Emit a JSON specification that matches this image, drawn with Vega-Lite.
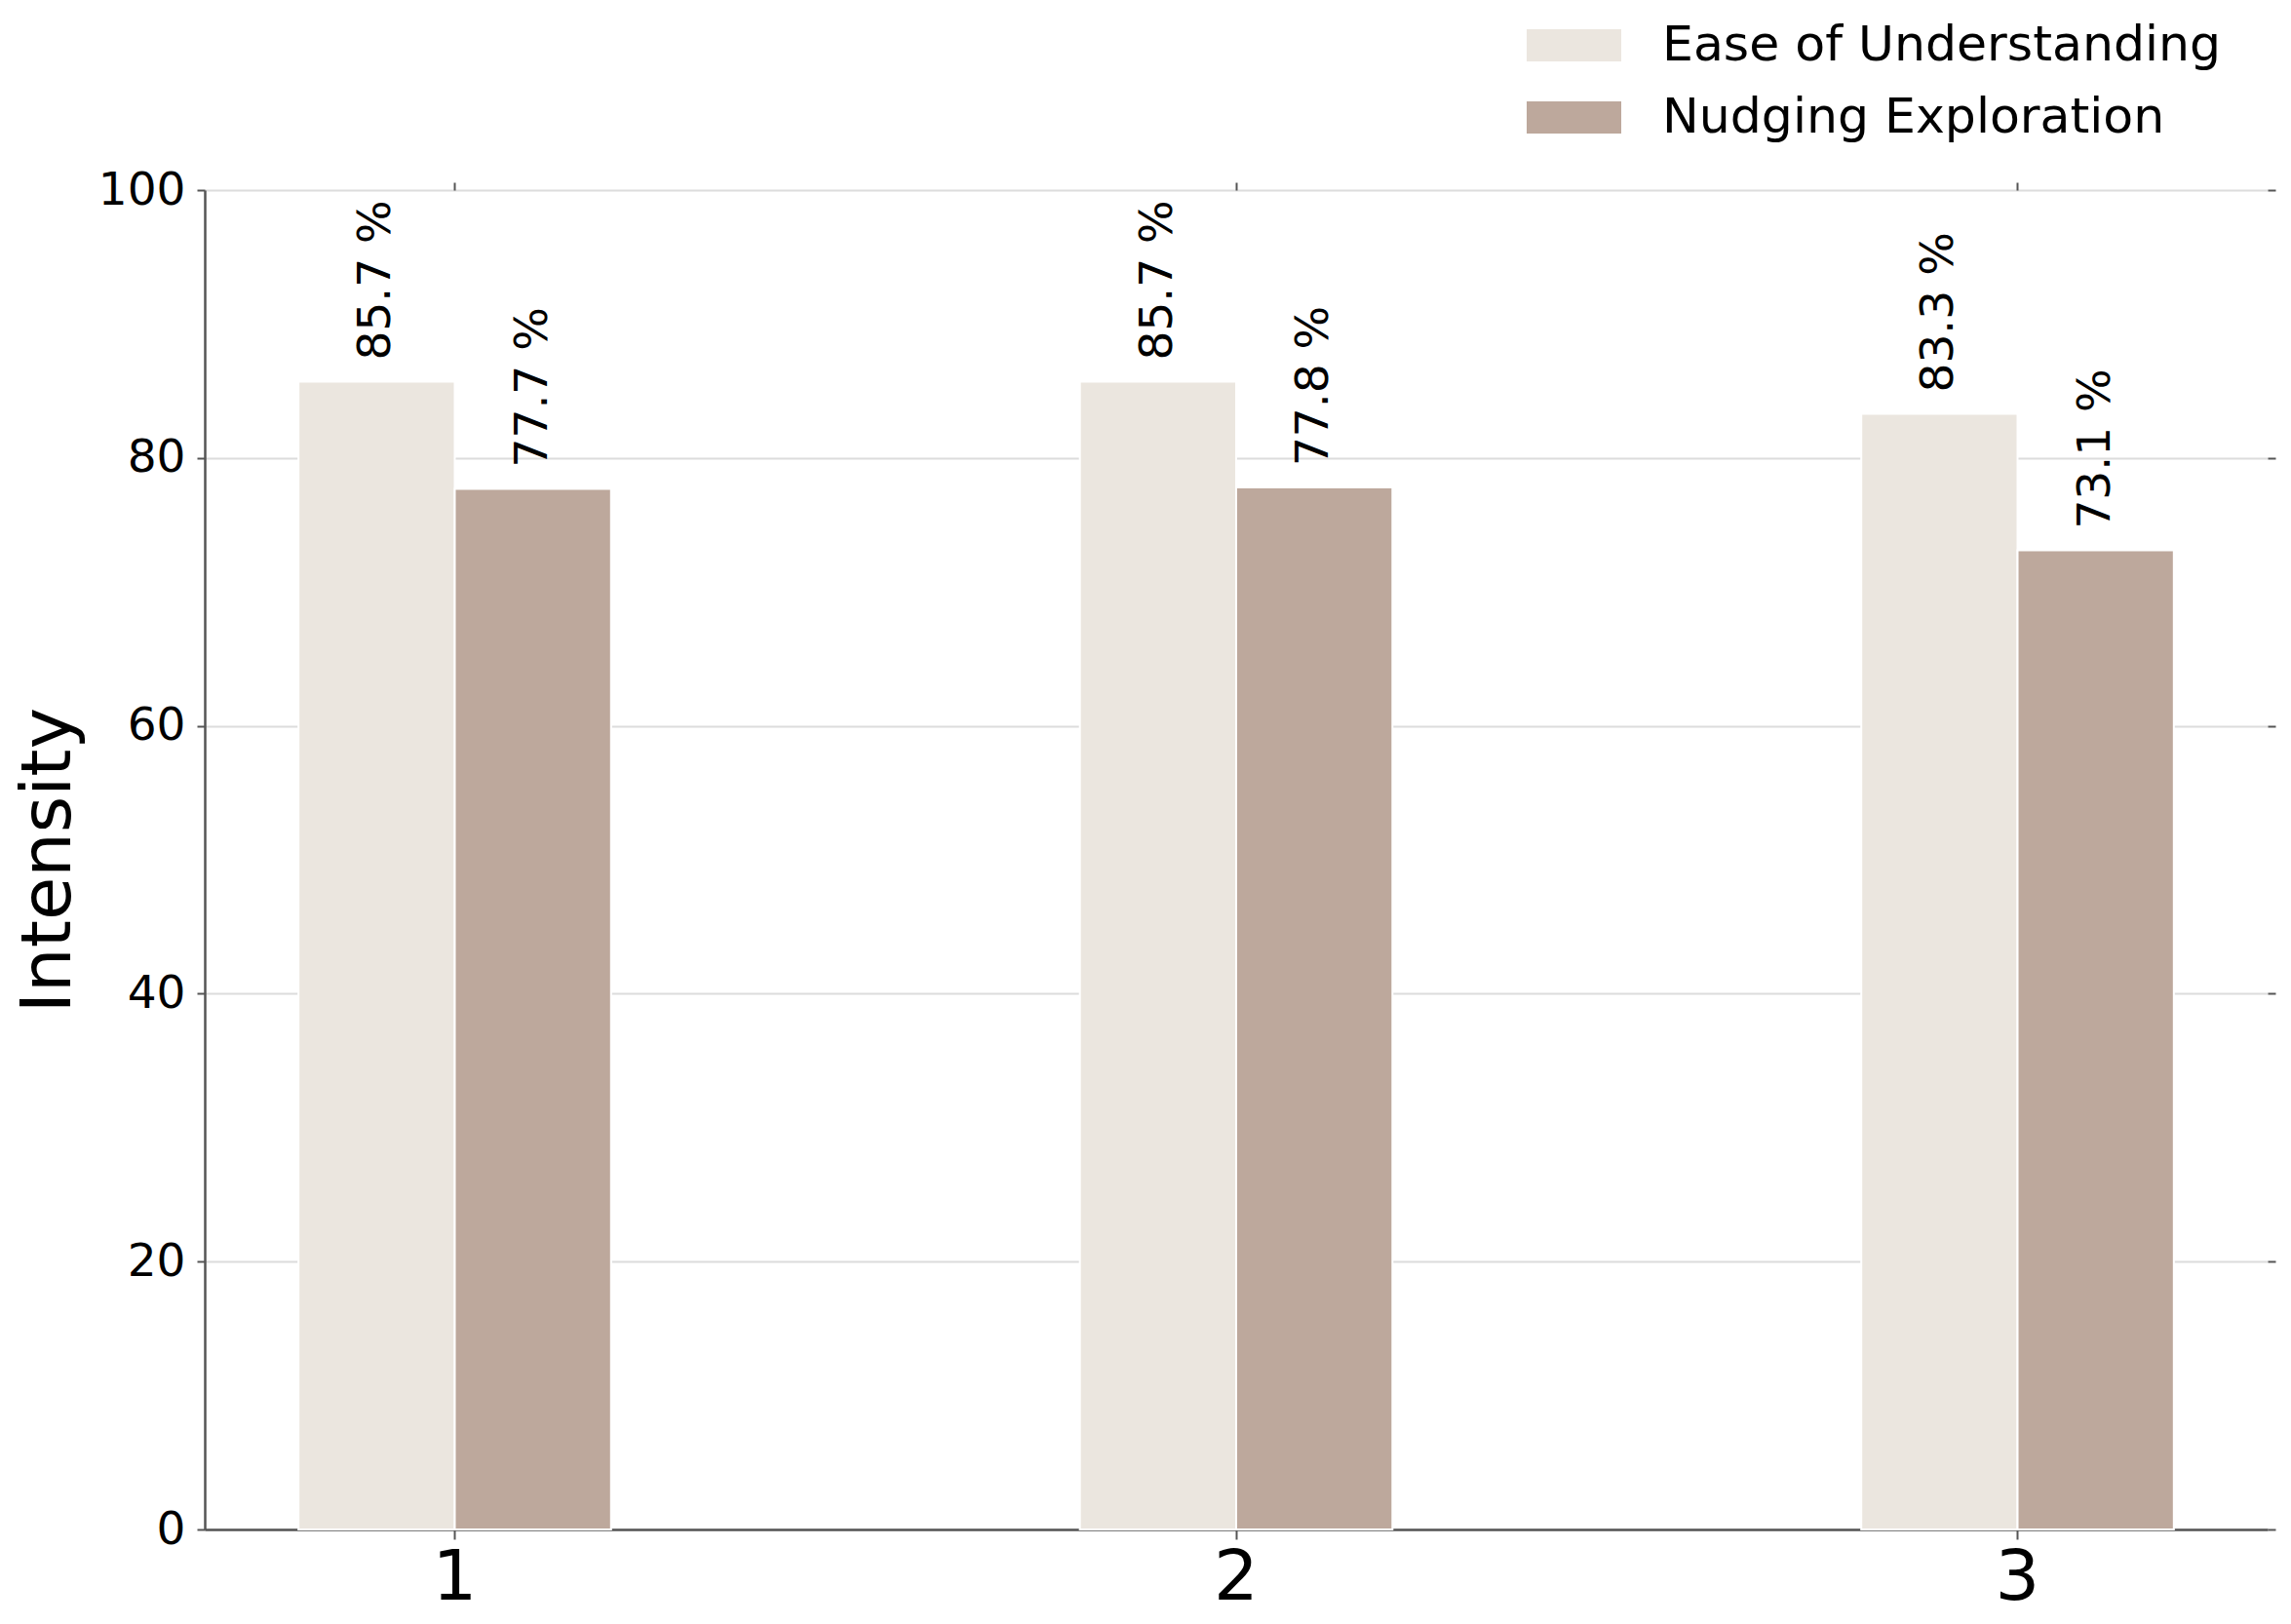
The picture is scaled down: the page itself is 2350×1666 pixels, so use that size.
{
  "$schema": "https://vega.github.io/schema/vega-lite/v6.json",
  "width": 2116,
  "height": 1374,
  "autosize": "none",
  "padding": {"left": 210, "top": 195, "right": 24, "bottom": 97},
  "background": "white",
  "config": {"font": "DejaVu Sans", "view": {"stroke": null}},
  "data": {
    "values": [
      {"task": "1", "metric": "Ease of Understanding", "value": 85.7},
      {"task": "1", "metric": "Nudging Exploration", "value": 77.7},
      {"task": "2", "metric": "Ease of Understanding", "value": 85.7},
      {"task": "2", "metric": "Nudging Exploration", "value": 77.8},
      {"task": "3", "metric": "Ease of Understanding", "value": 83.3},
      {"task": "3", "metric": "Nudging Exploration", "value": 73.1}
    ]
  },
  "transform": [{"calculate": "format(datum.value, '.1f') + ' %'", "as": "label"}],
  "layer": [
    {
      "mark": {"type": "bar", "stroke": "white", "strokeWidth": 2},
      "encoding": {
        "x": {
          "field": "task", "type": "ordinal",
          "scale": {"paddingInner": 0.6, "paddingOuter": 0.12},
          "axis": {
            "orient": "bottom", "title": null, "labelAngle": 0, "labelFontSize": 72,
            "labelColor": "black", "labelPadding": 4, "tickSize": 10, "tickWidth": 2,
            "tickColor": "#555555", "domainColor": "#555555", "domainWidth": 2.5, "grid": false
          }
        },
        "xOffset": {
          "field": "metric", "type": "nominal",
          "scale": {"domain": ["Ease of Understanding", "Nudging Exploration"], "paddingInner": 0, "paddingOuter": 0}
        },
        "y": {
          "field": "value", "type": "quantitative",
          "scale": {"domain": [0, 100], "nice": false},
          "axis": {
            "orient": "left", "values": [0, 20, 40, 60, 80, 100], "title": "Intensity",
            "titleFontSize": 72, "titleFontWeight": "normal", "titleColor": "black", "titlePadding": 14,
            "labelFontSize": 47, "labelColor": "black", "labelPadding": 12,
            "tickSize": 8, "tickWidth": 2, "tickColor": "#555555",
            "domainColor": "#555555", "domainWidth": 2.5,
            "grid": true, "gridColor": "#dcdcdc", "gridWidth": 2
          }
        },
        "color": {
          "field": "metric", "type": "nominal",
          "scale": {"domain": ["Ease of Understanding", "Nudging Exploration"], "range": ["#ebe6df", "#bda89c"]},
          "legend": {
            "orient": "none", "legendX": 1356, "legendY": -197, "title": null,
            "symbolType": "M-1,-0.34H1V0.34H-1Z", "symbolSize": 9409, "symbolStrokeWidth": 0,
            "labelFontSize": 50.5, "labelColor": "black", "labelOffset": 42, "rowPadding": -24,
            "labelLimit": 0
          }
        }
      }
    },
    {
      "mark": {"type": "text", "angle": 270, "align": "left", "baseline": "middle", "dx": 22, "fontSize": 47, "color": "black"},
      "encoding": {
        "x": {
          "field": "task", "type": "ordinal",
          "axis": {"orient": "top", "title": null, "labels": false, "domain": false, "grid": false, "tickSize": 8, "tickWidth": 2, "tickColor": "#555555"}
        },
        "xOffset": {"field": "metric", "type": "nominal"},
        "y": {
          "field": "value", "type": "quantitative",
          "axis": {"orient": "right", "values": [0, 20, 40, 60, 80, 100], "title": null, "labels": false, "domain": false, "grid": false, "tickSize": 8, "tickWidth": 2, "tickColor": "#555555"}
        },
        "text": {"field": "label"}
      }
    }
  ],
  "resolve": {"axis": {"x": "independent", "y": "independent"}}
}
